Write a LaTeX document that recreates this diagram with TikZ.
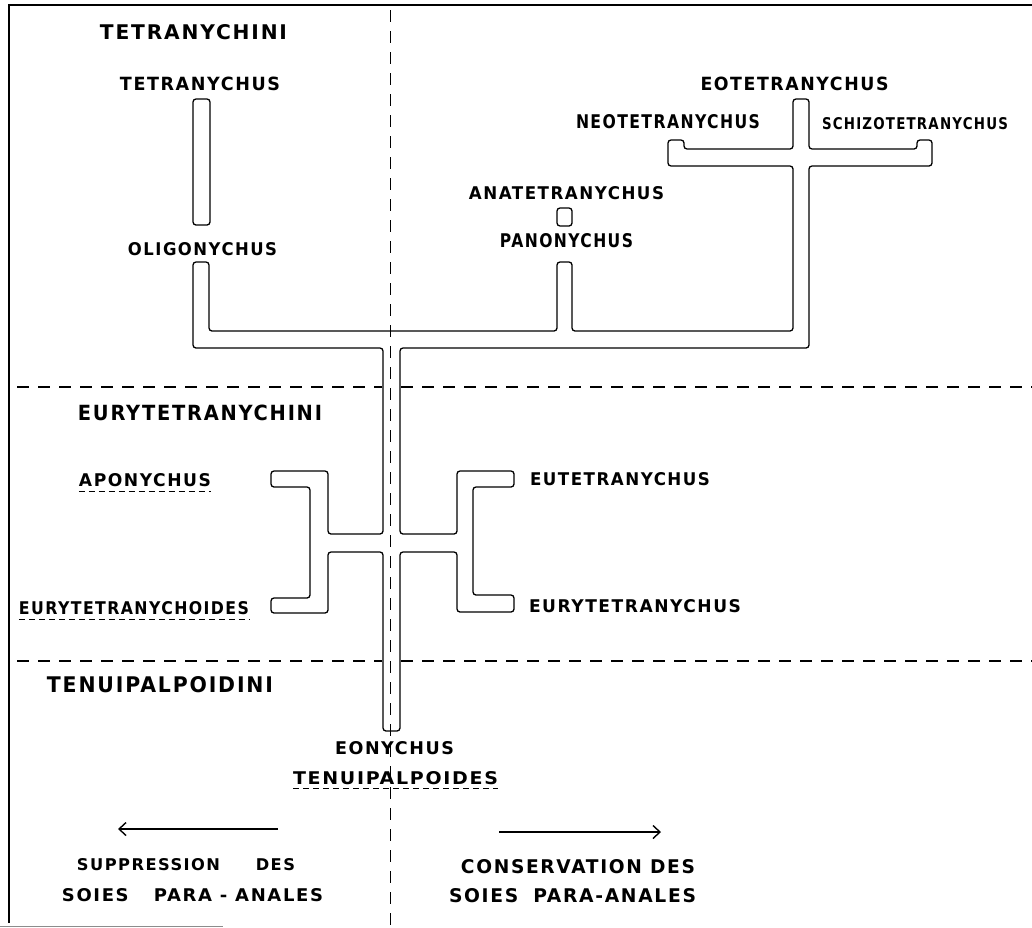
\documentclass[tikz,border=0pt]{standalone}
\usepackage{fontspec}
\usepackage{graphicx}
\usetikzlibrary{arrows.meta}
\newfontfamily\lf[LetterSpace=9]{DejaVu Sans}
\newcommand\fitlab[3]{\resizebox{#1pt}{#2pt}{\lf\bfseries #3}}
\tikzset{
  lbl/.style={inner sep=0pt, outer sep=0pt, anchor=center},
  tube/.style={line width=1.3pt, rounded corners=3pt, line join=round},
  sep/.style={line width=1.1pt, dash pattern=on 12pt off 9pt},
  uline/.style={line width=1pt, dash pattern=on 6pt off 4pt},
  arr/.style={line width=1.7pt, -{Straight Barb[length=7pt,width=13pt,line width=1.4pt]}},
  frameline/.style={line width=1.2pt},
}
\begin{document}
\begin{tikzpicture}[x=1pt,y=-1pt]
\useasboundingbox (0,0) rectangle (1032,927);
% frame
\coordinate (ftl) at (9,5);
\coordinate (ftr) at (1032,5);
\coordinate (fbl) at (9,923);
\coordinate (bl1) at (0,926);
\coordinate (bl2) at (223,926);
\draw[frameline] (ftr) -- (ftl) -- (fbl);
\draw[line width=0.8pt, black!45] (bl1) -- (bl2);
% separators
\coordinate (vt) at (390.5,10);
\coordinate (vb) at (390.5,927);
\draw[sep] (vt) -- (vb);
\coordinate (h1a) at (17,387);
\coordinate (h1b) at (382,387);
\coordinate (h1c) at (401,387);
\coordinate (h1d) at (1032,387);
\coordinate (h2a) at (17,661);
\coordinate (h2b) at (382,661);
\coordinate (h2c) at (401,661);
\coordinate (h2d) at (1032,661);
\draw[sep] (h1a) -- (h1b);
\draw[sep] (h1c) -- (h1d);
\draw[sep] (h2a) -- (h2b);
\draw[sep] (h2c) -- (h2d);
% tree
\draw[tube] (193,99) rectangle (210,225);
\draw[tube] (557,208) rectangle (572,226);
\draw[tube] (209,262) -- (209,331) -- (557,331) -- (557,262) -- (572,262) -- (572,331)
  -- (793,331) -- (793,166) -- (668,166) -- (668,140) -- (684,140) -- (684,149)
  -- (793,149) -- (793,99) -- (809,99) -- (809,149) -- (917,149) -- (917,140)
  -- (932,140) -- (932,166) -- (809,166) -- (809,348) -- (400,348) -- (400,534)
  -- (457,534) -- (457,471) -- (514,471) -- (514,487) -- (473,487) -- (473,595)
  -- (514,595) -- (514,612) -- (457,612) -- (457,552) -- (400,552) -- (400,731)
  -- (383,731) -- (383,552) -- (328,552) -- (328,613) -- (271,613) -- (271,598)
  -- (310,598) -- (310,487) -- (271,487) -- (271,471) -- (328,471) -- (328,534)
  -- (383,534) -- (383,348) -- (193,348) -- (193,262) -- cycle;
% labels
\node[lbl] (tetranychini) at (193.5,32.5) {\fitlab{187}{15}{TETRANYCHINI}};
\node[lbl] (tetranychus) at (200,84) {\fitlab{160}{13.5}{TETRANYCHUS}};
\node[lbl] (oligonychus) at (202.5,249.5) {\fitlab{149}{13}{OLIGONYCHUS}};
\node[lbl] (eotetranychus) at (794.5,83.5) {\fitlab{188}{13.5}{EOTETRANYCHUS}};
\node[lbl] (neotetranychus) at (668,122) {\fitlab{184}{14}{NEOTETRANYCHUS}};
\node[lbl] (schizo) at (915,124) {\fitlab{186}{12}{SCHIZOTETRANYCHUS}};
\node[lbl] (anatetranychus) at (566.5,193.5) {\fitlab{195}{13}{ANATETRANYCHUS}};
\node[lbl] (panonychus) at (566.5,240.5) {\fitlab{133}{14}{PANONYCHUS}};
\node[lbl] (eurytetranychini) at (200,413) {\fitlab{244}{15.5}{EURYTETRANYCHINI}};
\node[lbl] (aponychus) at (145,480.5) {\fitlab{132}{13}{APONYCHUS}};
\node[lbl] (eurytetranychoides) at (134,608.5) {\fitlab{230}{13}{EURYTETRANYCHOIDES}};
\node[lbl] (eutetranychus) at (620,479) {\fitlab{180}{13}{EUTETRANYCHUS}};
\node[lbl] (eurytetranychus) at (635,606) {\fitlab{212}{13}{EURYTETRANYCHUS}};
\node[lbl] (tenuipalpoidini) at (160,685) {\fitlab{226}{16}{TENUIPALPOIDINI}};
\node[lbl] (eonychus) at (394.5,748) {\fitlab{119}{13}{EONYCHUS}};
\node[lbl] (tenuipalpoides) at (395.5,778) {\fitlab{205}{13}{TENUIPALPOIDES}};
\node[lbl] (suppression) at (186,865) {\fitlab{218}{12}{SUPPRESSION\hspace{2.2em}DES}};
\node[lbl] (soiesl) at (192.5,895) {\fitlab{261}{13}{SOIES\hspace{1.4em}PARA - ANALES}};
\node[lbl] (conservation) at (578,867) {\fitlab{234}{14}{CONSERVATION DES}};
\node[lbl] (soiesr) at (572.5,895.5) {\fitlab{247}{14}{SOIES\hspace{0.8em}PARA-ANALES}};
% underlines
\draw[uline] ([yshift=-4pt]aponychus.south west) -- ([yshift=-4pt]aponychus.south east);
\draw[uline] ([yshift=-4pt]eurytetranychoides.south west) -- ([yshift=-4pt]eurytetranychoides.south east);
\draw[uline] ([yshift=-4pt]tenuipalpoides.south west) -- ([yshift=-4pt]tenuipalpoides.south east);
% arrows
\coordinate (la1) at (278,829);
\coordinate (la2) at (118,829);
\coordinate (ra1) at (499,832);
\coordinate (ra2) at (661,832);
\draw[arr] (la1) -- (la2);
\draw[arr] (ra1) -- (ra2);
\end{tikzpicture}
\end{document}
